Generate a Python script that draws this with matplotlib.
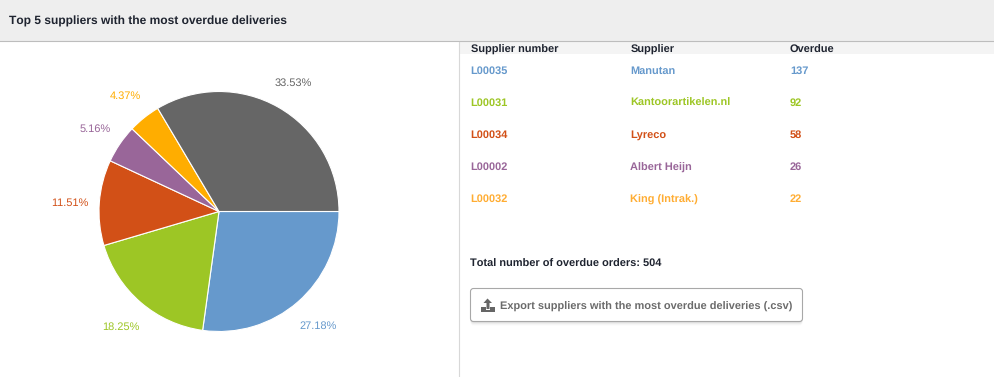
import matplotlib
matplotlib.use("Agg")
import matplotlib.pyplot as plt
from matplotlib.patches import Rectangle, FancyBboxPatch, Polygon

plt.rcParams['font.family'] = ['Liberation Sans', 'DejaVu Sans']
plt.rcParams['text.hinting'] = 'no_hinting'
plt.rcParams['text.hinting_factor'] = 1

W, H = 994, 377
title = "Top 5 suppliers with the most overdue deliveries"
numbers = ["L00035", "L00031", "L00034", "L00002", "L00032"]
suppliers = ["Manutan", "Kantoorartikelen.nl", "Lyreco", "Albert Heijn", "King (Intrak.)"]
overdue = [137, 92, 58, 26, 22]
slice_values = [27.18, 18.25, 11.51, 5.16, 4.37, 33.53]
slice_labels = ["27.18%", "18.25%", "11.51%", "5.16%", "4.37%", "33.53%"]
slice_colors = ["#6699cc", "#9dc625", "#d25017", "#996699", "#ffad00", "#666666"]
row_colors = ["#6699cc", "#9dc625", "#d25017", "#996699", "#ffad33"]
headers = ["Supplier number", "Supplier", "Overdue"]
total_text = "Total number of overdue orders: 504"
button_text = "Export suppliers with the most overdue deliveries (.csv)"

fig = plt.figure(figsize=(W / 100, H / 100), dpi=100, facecolor="white")
bg = fig.add_axes([0, 0, 1, 1])
bg.set_xlim(0, W)
bg.set_ylim(H, 0)
bg.axis("off")

bg.add_patch(Rectangle((0, 0), W, 41, fc="#eeeeee", ec="none"))
bg.plot([0, W], [41, 41], color="#bdbdbd", lw=0.8)
bg.add_patch(Rectangle((460, 42), W - 460, 12, fc="#f4f4f4", ec="none"))
bg.plot([459, 459], [42, H], color="#d8d8d8", lw=0.8)

bg.text(9, 25, title, fontsize=8.64, fontweight="bold", color="#1f2430", va="baseline")

cols = [471, 631, 790]
for x, h in zip(cols, headers):
    bg.text(x, 52.4, h, fontsize=7.92, fontweight="bold", color="#1f2430", va="baseline")
for i, (n, s, o, c) in enumerate(zip(numbers, suppliers, overdue, row_colors)):
    y = 74 + 32 * i
    # labels with deep descenders land a pixel high when rasterised
    nudge = 0.4 if any(ch in s for ch in "j(") else 0
    bg.text(cols[0] - 0.5, y, n, fontsize=7.92, fontweight="bold", color=c, va="baseline")
    bg.text(cols[1] - 0.5, y + nudge, s, fontsize=7.92, fontweight="bold", color=c, va="baseline")
    bg.text(cols[2], y, str(o), fontsize=7.92, fontweight="bold", color=c, va="baseline")

bg.text(470, 266.4, total_text, fontsize=7.92, fontweight="bold", color="#1f2430", va="baseline")

for off, a in ((4, 0.02), (3, 0.03), (2, 0.04), (1, 0.05)):
    bg.add_patch(FancyBboxPatch((470.5, 288.5 + off), 332, 33, boxstyle="round,pad=0,rounding_size=3",
                                fc="black", ec="none", alpha=a))
bg.add_patch(FancyBboxPatch((470.5, 288.5), 332, 33, boxstyle="round,pad=0,rounding_size=3",
                            fc="white", ec="#a8a8a8", lw=0.8))
bg.text(500, 310, button_text, fontsize=7.92, fontweight="bold", color="#6b6b6b", va="baseline")
icon = "#666666"
bg.add_patch(Polygon([(481, 307), (486, 307), (486, 310), (490, 310), (490, 307), (494.5, 307),
                      (494.5, 311.5), (481, 311.5)], fc=icon, ec="none"))
bg.add_patch(Polygon([(487.5, 298.5), (492, 303), (489.5, 303), (489.5, 309), (486.5, 309),
                      (486.5, 303), (483.5, 303)], fc=icon, ec="none"))

R = 120
cx, cy = 219, 211.5
ax = fig.add_axes([(cx - R) / W, 1 - (cy + R) / H, 2 * R / W, 2 * R / H])
ax.pie(slice_values, colors=slice_colors, startangle=0, counterclock=False, radius=1,
       wedgeprops={"edgecolor": "white", "linewidth": 0.8})
ax.set_xlim(-1, 1)
ax.set_ylim(-1, 1)

label_pos = [(318, 329), (121, 330), (70, 206), (95, 132), (125, 99), (293, 86)]
for (x, y), t, c in zip(label_pos, slice_labels, slice_colors):
    bg.text(x, y, t, fontsize=7.92, color=c, ha="center", va="baseline")

fig.savefig("out.png", dpi=100, facecolor="white")
